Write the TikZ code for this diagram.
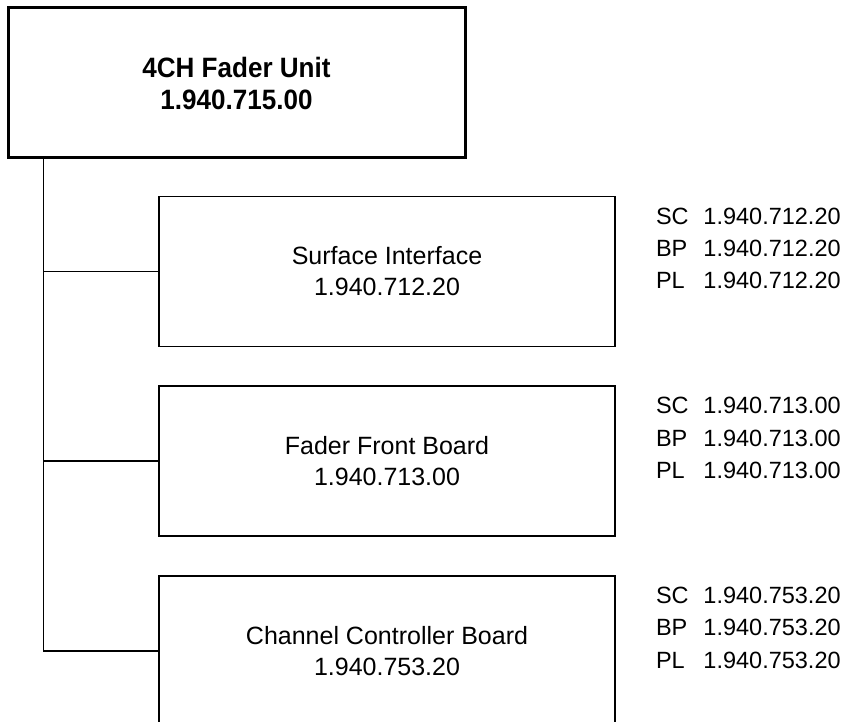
\documentclass[tikz,border=0pt]{standalone}
\usepackage{fontspec}
\setmainfont{Liberation Sans}[BoldFeatures={FakeStretch=0.93}]
\usetikzlibrary{positioning,calc}

\newcommand{\partline}[2]{\makebox[2.02em][l]{#1}#2}

\begin{document}
\begin{tikzpicture}[
  x=1pt, y=1pt,
  unit/.style={draw, line width=3pt, minimum width=457pt, minimum height=150pt,
               align=center, font=\fontsize{28}{32}\selectfont\bfseries},
  board/.style={draw, line width=1.6pt, minimum width=456pt, minimum height=150pt,
                align=center, font=\fontsize{25}{31}\selectfont},
  parts/.style={align=left, inner sep=0pt, anchor=north west,
                font=\fontsize{23.5}{32.3}\selectfont},
  link/.style={line width=1.6pt},
  node distance=38pt
]
\useasboundingbox (0,0) rectangle (858,-721.8);
\clip (0,0) rectangle (858,-721.8);
\node[unit] (unit) at (236.5,-83) {4CH Fader Unit\\ 1.940.715.00};
\node[board] (sif) at (387,-271.5) {Surface Interface\\ 1.940.712.20};
\node[board, below=of sif] (ffb) {Fader Front Board\\ 1.940.713.00};
\node[board, below=of ffb] (ccb) {Channel Controller Board\\ 1.940.753.20};
% part numbers beside each board
\node[parts] (sifparts) at ([xshift=40pt,yshift=-12pt]sif.north east)
  {\partline{SC}{1.940.712.20}\\ \partline{BP}{1.940.712.20}\\ \partline{PL}{1.940.712.20}};
\node[parts] (ffbparts) at ([xshift=40pt,yshift=-12pt]ffb.north east)
  {\partline{SC}{1.940.713.00}\\ \partline{BP}{1.940.713.00}\\ \partline{PL}{1.940.713.00}};
\node[parts] (ccbparts) at ([xshift=40pt,yshift=-12pt]ccb.north east)
  {\partline{SC}{1.940.753.20}\\ \partline{BP}{1.940.753.20}\\ \partline{PL}{1.940.753.20}};
% tree lines
\coordinate (trunk) at ([xshift=37pt]unit.south west);
\draw[link] (trunk) |- (ccb.west);
\draw[link] (trunk |- sif.west) -- (sif.west);
\draw[link] (trunk |- ffb.west) -- (ffb.west);
\end{tikzpicture}
\end{document}
